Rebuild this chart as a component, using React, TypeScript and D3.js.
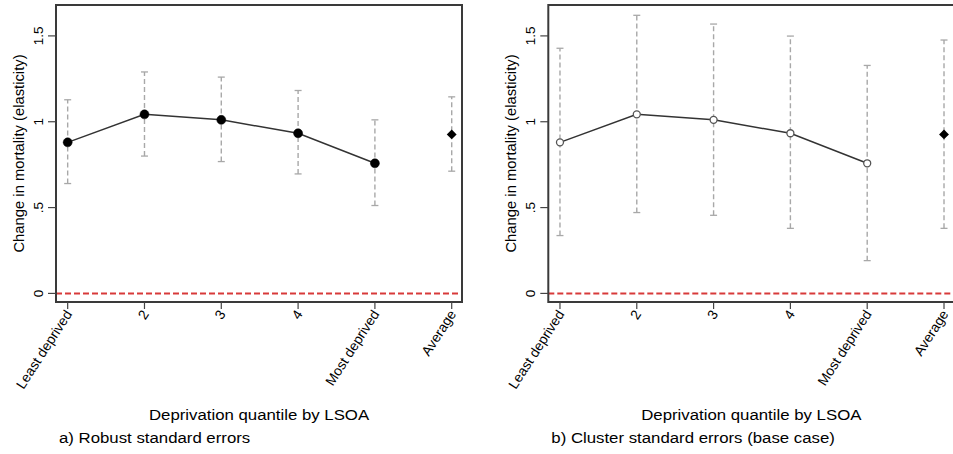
import React, {useEffect, useRef} from 'react';
import * as d3 from 'd3';

// categories on the x axis (last one is the pooled average)
const categories = ["Least deprived", "2", "3", "4", "Most deprived", "Average"];
// point estimates (elasticity), last value = average
const estimates = [0.88, 1.043, 1.011, 0.933, 0.758, 0.926];
// robust CI
const robustLower = [0.64, 0.80, 0.768, 0.696, 0.512, 0.712];
const robustUpper = [1.128, 1.29, 1.26, 1.182, 1.011, 1.145];
// cluster CI
const clusterLower = [0.337, 0.471, 0.455, 0.379, 0.191, 0.379];
const clusterUpper = [1.428, 1.62, 1.569, 1.499, 1.328, 1.476];
const yTicks = [0, 0.5, 1, 1.5];
const yTickLabels = ["0", ".5", "1", "1.5"];

const panels = [
  {offset: 0, lower: robustLower, upper: robustUpper, hollow: false, caption: "a) Robust standard errors"},
  {offset: 492.3, lower: clusterLower, upper: clusterUpper, hollow: true, caption: "b) Cluster standard errors (base case)"},
];

const App = () => {
  const ref = useRef<SVGSVGElement>(null);

  useEffect(() => {
    drawChart();
    return () => {
      d3.select(ref.current).selectAll("*").remove();
    };
  }, []);

  const drawChart = () => {
    const svg = d3.select(ref.current);
    const font = "'Liberation Sans', Arial, sans-serif";
    // the original picture is a bit stretched sideways
    const stretch = 1.12;

    // frame of each plot region
    const frameLeft = 56, frameRight = 462, frameTop = 5, frameBottom = 302;

    const x = d3.scaleLinear().domain([0.848, 6.134]).range([frameLeft, frameRight]);
    const y = d3.scaleLinear().domain([-0.05, 1.68]).range([frameBottom, frameTop]);

    panels.forEach(p => {
      const g = svg.append('g').attr('transform', `translate(${p.offset},0)`);

      // zero reference line
      g.append('line')
        .attr('x1', frameLeft).attr('x2', frameRight)
        .attr('y1', y(0)).attr('y2', y(0))
        .attr('stroke', '#d83a3a').attr('stroke-width', 2)
        .attr('stroke-dasharray', '6,3');

      // error bars
      const bars = g.selectAll('.bar')
        .data(categories.map((c, i) => ({i, lo: p.lower[i], hi: p.upper[i]})))
        .enter().append('g').attr('class', 'bar');
      bars.append('line')
        .attr('x1', d => x(d.i + 1)).attr('x2', d => x(d.i + 1))
        .attr('y1', d => y(d.lo)).attr('y2', d => y(d.hi))
        .attr('stroke', '#a8a8a8').attr('stroke-width', 1.4)
        .attr('stroke-dasharray', '5,3');
      ['lo', 'hi'].forEach(k => {
        bars.append('line')
          .attr('x1', d => x(d.i + 1) - 3.5).attr('x2', d => x(d.i + 1) + 3.5)
          .attr('y1', (d: any) => y(d[k])).attr('y2', (d: any) => y(d[k]))
          .attr('stroke', '#a8a8a8').attr('stroke-width', 1.3);
      });

      // connecting line for quintiles
      const quint = estimates.slice(0, 5);
      g.append('path')
        .datum(quint)
        .attr('d', d3.line<number>().x((d, i) => x(i + 1)).y(d => y(d)))
        .attr('fill', 'none').attr('stroke', '#333').attr('stroke-width', 1.5);

      g.selectAll('.pt')
        .data(quint)
        .enter().append('circle')
        .attr('class', 'pt')
        .attr('cx', (d, i) => x(i + 1)).attr('cy', d => y(d))
        .attr('r', p.hollow ? 3.5 : 4.5)
        .attr('fill', p.hollow ? 'white' : 'black')
        .attr('stroke', p.hollow ? '#555' : 'black')
        .attr('stroke-width', p.hollow ? 1.3 : 0.5);

      // average diamond
      g.append('path')
        .attr('d', d3.symbol(d3.symbolDiamond2, 62)())
        .attr('transform', `translate(${x(6)},${y(estimates[5])})`)
        .attr('fill', 'black');

      // frame
      g.append('rect')
        .attr('x', frameLeft).attr('y', frameTop)
        .attr('width', frameRight - frameLeft).attr('height', frameBottom - frameTop)
        .attr('fill', 'none').attr('stroke', '#3a3a3a').attr('stroke-width', 2);

      // y axis ticks
      g.selectAll('.ytick')
        .data(yTicks)
        .enter().append('line')
        .attr('x1', frameLeft - 8).attr('x2', frameLeft)
        .attr('y1', d => y(d)).attr('y2', d => y(d))
        .attr('stroke', '#444').attr('stroke-width', 1.2);
      g.selectAll('.ylab')
        .data(yTicks)
        .enter().append('text')
        .attr('transform', d => `translate(${frameLeft - 13},${y(d)}) rotate(-90)`)
        .attr('text-anchor', 'middle')
        .attr('font-family', font).attr('font-size', 13.5)
        .text((d, i) => yTickLabels[i]);

      // x axis ticks
      g.selectAll('.xtick')
        .data(categories)
        .enter().append('line')
        .attr('x1', (d, i) => x(i + 1)).attr('x2', (d, i) => x(i + 1))
        .attr('y1', frameBottom).attr('y2', frameBottom + 7)
        .attr('stroke', '#444').attr('stroke-width', 1.2);
      g.selectAll('.xlab')
        .data(categories)
        .enter().append('text')
        .attr('transform', (d, i) => `translate(${x(i + 1) + 5},${frameBottom + 12}) rotate(-57)`)
        .attr('text-anchor', 'end')
        .attr('font-family', font).attr('font-size', 13.8)
        .text(d => d);

      // titles
      g.append('text')
        .attr('transform', `translate(24,${(frameTop + frameBottom) / 2}) rotate(-90)`)
        .attr('text-anchor', 'middle')
        .attr('font-family', font).attr('font-size', 14.8)
        .text('Change in mortality (elasticity)');
      g.append('text')
        .attr('transform', `translate(${(frameLeft + frameRight) / 2},420) scale(${stretch},1)`)
        .attr('text-anchor', 'middle')
        .attr('font-family', font).attr('font-size', 15)
        .text('Deprivation quantile by LSOA');
      g.append('text')
        .attr('transform', `translate(${frameLeft + 3},443) scale(${stretch},1)`)
        .attr('font-family', font).attr('font-size', 15)
        .text(p.caption);
    });
  };

  return (
    <svg ref={ref} width={953} height={454}
      style={{position: 'absolute', left: 0, top: 0, background: 'white'}} />
  );
};

export default App;
